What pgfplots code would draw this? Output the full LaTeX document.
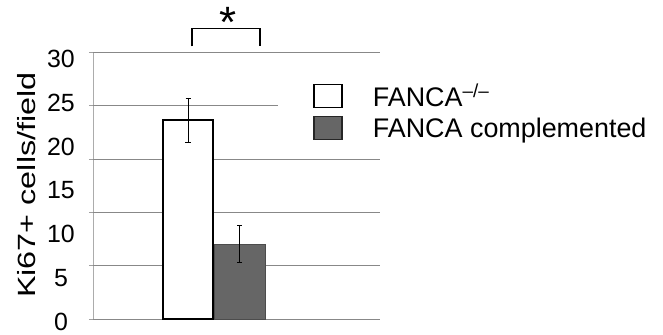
\documentclass[border=0pt]{standalone}
\usepackage{pgfplots}
\pgfplotsset{compat=1.18}
\usepackage{fontspec}
\setmainfont{Liberation Sans}
\usepackage{graphicx}
\definecolor{gridgray}{HTML}{888888}
\definecolor{bargray}{HTML}{666666}
\begin{document}
\begin{tikzpicture}
\begin{axis}[
  name=ax,
  at={(0,0)}, anchor=south west,
  scale only axis, width=287bp, height=266.5bp,
  xmin=93, xmax=380, ymin=0, ymax=30,
  clip=false,
  axis lines*=left,
  x axis line style={draw=none},
  y axis line style={draw=gridgray!70, line width=0.8bp},
  xtick=\empty,
  ytick={0,4.92,9.84,14.76,19.68,24.6,29.52},
  yticklabels={0,5,10,15,20,25,30},
  major tick length=0pt,
  yticklabel style={font=\fontsize{25}{30}\selectfont, anchor=center, xshift=-32bp, yshift=-2.5bp},
  extra y ticks={0,6,12,18,24,30},
  extra y tick labels={},
  extra y tick style={grid=major, major grid style={draw=gridgray, line width=1bp}, major tick length=4bp, tick style={draw=gridgray!80, line width=0.8bp}, tick align=outside},
  ylabel={\scalebox{1.3}[1]{Ki67+ cells/field}},
  ylabel style={at={(axis description cs:-0.23,0.503)}, anchor=center, font=\fontsize{25}{28}\selectfont},
  legend image code/.code={\draw[#1] (0bp,-11.5bp) rectangle (28bp,11.5bp); \path[draw=none,fill=none] (0bp,-16bp) rectangle (59bp,16bp);},
  legend style={at={(axis description cs:0.645,0.905)}, anchor=north west, draw=none, fill=white,
    font=\fontsize{27}{30}\selectfont, nodes={inner sep=0pt}, inner xsep=35bp, inner ysep=2bp, row sep=0pt},
  legend cell align=left,
]
\addplot[ybar, bar width=50.6, bar shift=0pt, fill=white, draw=black, line width=2bp, forget plot,
  error bars/.cd, y dir=both, y explicit,
  error bar style={line width=0.6bp, black},
  error mark options={rotate=90, mark size=2.5bp, line width=0.6bp, black}]
  coordinates {(188,22.4) +- (0,2.5)};
\addplot[ybar, bar width=50.7, bar shift=0pt, fill=bargray, draw=black!70, line width=0.6bp, forget plot,
  error bars/.cd, y dir=both, y explicit,
  error bar style={line width=0.6bp, black},
  error mark options={rotate=90, mark size=2.5bp, line width=0.6bp, black}]
  coordinates {(239.65,8.45) +- (0,2.1)};
\addlegendimage{fill=white, draw=black, line width=1.2bp}
\addlegendentry{FANCA\textsuperscript{–/–}}
\addlegendimage{fill=bargray, draw=black!85, line width=1.2bp}
\addlegendentry{FANCA complemented}
\draw[line width=1.5bp] (axis cs:192,30.7) -- (axis cs:192,32.7) -- (axis cs:260,32.7) -- (axis cs:260,30.7);
\node[anchor=north, inner sep=0pt, font=\fontsize{44}{44}\selectfont] at (axis cs:228,35.1) {*};
\end{axis}
\pgfresetboundingbox
\path ([shift={(-93bp,-16bp)}]ax.south west) rectangle ([shift={(283bp,52.5bp)}]ax.north east);
\end{tikzpicture}
\end{document}
